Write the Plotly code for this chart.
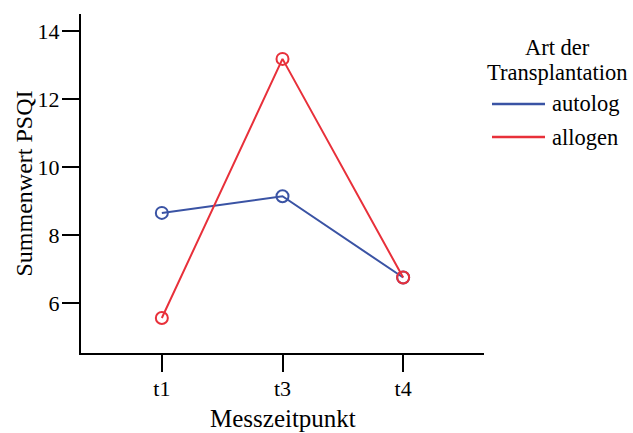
import plotly.graph_objects as go

# Mean PSQI sum score per measurement time, by transplantation type
zeitpunkte = ["t1", "t3", "t4"]
autolog = [8.65, 9.14, 6.75]
allogen = [5.56, 13.18, 6.75]
y_ticks = [6, 8, 10, 12, 14]
series = [("autolog", autolog, "#3A53A4"), ("allogen", allogen, "#E8303A")]
legend_title = ["Art der", "Transplantation"]
x_title = "Messzeitpunkt"
y_title = "Summenwert PSQI"

FONT = "Liberation Serif, Times New Roman, serif"
W, H = 633, 433
ML, MR, MT, MB = 81, 149, 14, 80
PW, PH = W - ML - MR, H - MT - MB


def px_x(px):
    """pixel column -> paper x"""
    return (px - ML) / PW


def px_y(py):
    """pixel row -> paper y"""
    return (H - MB - py) / PH


fig = go.Figure()

for name, values, color in series:
    fig.add_trace(go.Scatter(
        x=zeitpunkte, y=values, mode="lines+markers", name=name,
        line=dict(color=color, width=2),
        marker=dict(symbol="circle-open", size=12, color=color, line=dict(width=2)),
        showlegend=False,
    ))

annotations = []
shapes = []

# axis titles
annotations.append(dict(
    x=0.5, y=px_y(433), xref="paper", yref="paper",
    text=x_title, showarrow=False, xanchor="center", yanchor="bottom",
    borderpad=0,
    font=dict(family=FONT, size=25, color="black"),
))
annotations.append(dict(
    x=px_x(23), y=0.5, xref="paper", yref="paper",
    text=y_title, showarrow=False, textangle=-90,
    xanchor="center", yanchor="middle",
    font=dict(family=FONT, size=24, color="black"),
))

# legend drawn as a simple key to the right of the plot
for i, line in enumerate(legend_title):
    annotations.append(dict(
        x=px_x(557), y=px_y(47 + 25 * i), xref="paper", yref="paper",
        text=line, showarrow=False, xanchor="center", yanchor="middle",
        font=dict(family=FONT, size=22.5, color="black"),
    ))
for i, (name, values, color) in enumerate(series):
    yy = px_y(104 + 33 * i)
    shapes.append(dict(
        type="line", xref="paper", yref="paper",
        x0=px_x(492), x1=px_x(545), y0=yy, y1=yy,
        line=dict(color=color, width=2.5),
    ))
    annotations.append(dict(
        x=px_x(550), y=yy, xref="paper", yref="paper",
        text=name, showarrow=False, xanchor="left", yanchor="middle",
        font=dict(family=FONT, size=22.5, color="black"),
    ))

fig.update_layout(
    width=W, height=H,
    margin=dict(l=ML, r=MR, t=MT, b=MB),
    plot_bgcolor="white", paper_bgcolor="white",
    font=dict(family=FONT, size=22, color="black"),
    showlegend=False,
    annotations=annotations,
    shapes=shapes,
    xaxis=dict(
        type="category", range=[-0.67, 2.67], automargin=False,
        showline=True, linecolor="black", linewidth=2,
        ticks="outside", ticklen=17, tickwidth=2, tickcolor="black",
        showgrid=False, zeroline=False,
        tickfont=dict(size=22), ticklabelstandoff=-2,
    ),
    yaxis=dict(
        range=[4.53, 14.5], tickvals=y_ticks, automargin=False,
        showline=True, linecolor="black", linewidth=2,
        ticks="outside", ticklen=17, tickwidth=2, tickcolor="black",
        showgrid=False, zeroline=False,
        tickfont=dict(size=22), ticklabelstandoff=-2,
    ),
)

fig.write_html("out.html")
